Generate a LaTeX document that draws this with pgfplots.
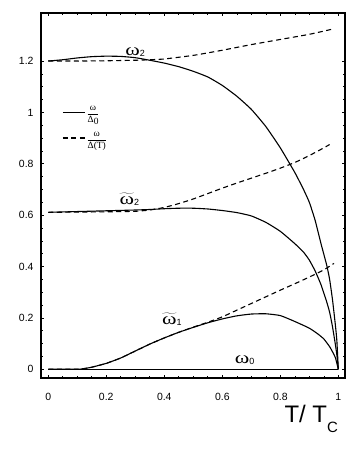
\documentclass[border=0pt]{standalone}
\usepackage{fontspec}
\setmainfont{Liberation Sans}
\newfontfamily\serif{Liberation Serif}
\usepackage{graphicx}
\usepackage{pgfplots}
\pgfplotsset{compat=1.18}

% upright omega, a little wider than Times
\newcommand{\om}{{\serif\scalebox{1.3}[1]{ω}}}
\newcommand{\omt}{$\widetilde{\mbox{\om}}$}
\newcommand{\lab}[2]{\fontsize{17}{19}\selectfont #1\raisebox{-1.5bp}{\fontsize{9}{10}\selectfont #2}}

\begin{document}
\begin{tikzpicture}
\begin{axis}[
    name=ax,
    scale only axis,
    width=304bp,
    height=365bp,
    xmin=-0.025, xmax=1.023,
    ymin=-0.034, ymax=1.387,
    xtick={0,0.2,0.4,0.6,0.8,1},
    ytick={0,0.2,0.4,0.6,0.8,1,1.2},
    minor tick num=3,
    tick align=inside,
    major tick length=3bp,
    minor tick length=1.6bp,
    tick style={line width=0.6bp, black},
    axis line style={line width=1.1bp},
    /pgf/number format/assume math mode=true,
    tick label style={font=\fontsize{10.5}{12}\selectfont},
    xticklabel style={yshift=-12bp},
    yticklabel style={xshift=-4bp},
    xlabel={T/ T\raisebox{-10bp}{\fontsize{15}{17}\selectfont C}},
    xlabel style={at={(axis description cs:0.977,-0.123)}, anchor=base east,
        font=\fontsize{24}{26}\selectfont, inner sep=0pt},
    every axis plot/.append style={line width=1.1bp, black, smooth, tension=0.3},
    legend image code/.code={\draw[#1] (0bp,0bp) -- (22bp,0bp);},
    legend style={draw=none, fill=none, at={(axis cs:0.048,1.028)}, anchor=north west,
        inner sep=0pt, row sep=12bp, font=\serif\fontsize{9.5}{10}\selectfont,
        nodes={inner sep=1bp}},
    legend cell align=left,
    /tikz/every even column/.append style={column sep=11bp},
]

% omega_2 over Delta_0
\addplot[solid] coordinates {
    (0,1.200) (0.05,1.205) (0.1,1.212) (0.15,1.217) (0.2,1.219) (0.25,1.218)
    (0.3,1.213) (0.35,1.203) (0.4,1.192) (0.45,1.178) (0.5,1.160) (0.55,1.138)
    (0.6,1.105) (0.65,1.063) (0.7,1.012) (0.75,0.945) (0.8,0.862) (0.85,0.766)
    (0.88,0.700) (0.9,0.650) (0.92,0.580) (0.94,0.490) (0.96,0.405) (0.97,0.350)
    (0.98,0.270) (0.99,0.170) (0.995,0.110) (1.0,0.0)
};
\addlegendentry{$\displaystyle\frac{\mbox{ω}}{\mbox{Δ\raisebox{-1.5bp}{0}}}$}

% omega_2 over Delta(T)
\addplot[dash pattern=on 5bp off 3.5bp] coordinates {
    (0,1.200) (0.1,1.200) (0.2,1.201) (0.3,1.203) (0.35,1.205) (0.4,1.208)
    (0.5,1.222) (0.6,1.242) (0.7,1.264) (0.8,1.284) (0.9,1.304) (0.975,1.323)
};
\addlegendentry{$\displaystyle\frac{\mbox{ω}}{\mbox{Δ(T)}}$}

% tilde omega_2
\addplot[forget plot] coordinates {
    (0,0.611) (0.1,0.614) (0.2,0.617) (0.3,0.620) (0.35,0.622) (0.4,0.625)
    (0.45,0.627) (0.5,0.627) (0.55,0.624) (0.6,0.618) (0.65,0.610) (0.7,0.597)
    (0.75,0.572) (0.8,0.537) (0.85,0.489) (0.88,0.456) (0.9,0.425) (0.92,0.383)
    (0.94,0.330) (0.96,0.262) (0.97,0.222) (0.98,0.165) (0.99,0.095)
    (0.995,0.055) (1.0,0.0)
};
\addplot[forget plot, dash pattern=on 5bp off 3.5bp] coordinates {
    (0,0.611) (0.1,0.612) (0.2,0.613) (0.3,0.615) (0.35,0.620) (0.4,0.630)
    (0.45,0.645) (0.5,0.663) (0.55,0.684) (0.6,0.705) (0.65,0.725) (0.7,0.744)
    (0.75,0.763) (0.8,0.783) (0.85,0.805) (0.9,0.832) (0.95,0.862) (0.97,0.875)
};

% tilde omega_1
\addplot[forget plot] coordinates {
    (0,0.000) (0.1,0.000) (0.12,0.002) (0.15,0.008) (0.2,0.023) (0.25,0.044)
    (0.3,0.071) (0.35,0.098) (0.4,0.122) (0.45,0.144) (0.5,0.163) (0.55,0.181)
    (0.6,0.196) (0.65,0.208) (0.7,0.215) (0.75,0.216) (0.8,0.209) (0.85,0.186)
    (0.9,0.160) (0.93,0.137) (0.95,0.118) (0.97,0.088) (0.98,0.068)
    (0.99,0.045) (1.0,0.0)
};
\addplot[forget plot, dash pattern=on 5bp off 3.5bp] coordinates {
    (0,0.000) (0.1,0.000) (0.12,0.002) (0.15,0.008) (0.2,0.023) (0.25,0.044)
    (0.3,0.071) (0.35,0.098) (0.4,0.122) (0.45,0.144) (0.5,0.164) (0.55,0.183)
    (0.6,0.204) (0.65,0.230) (0.7,0.256) (0.75,0.282) (0.8,0.308) (0.85,0.333)
    (0.9,0.359) (0.95,0.387) (0.985,0.412)
};

% omega_0
\addplot[forget plot] coordinates {(0,0) (0.5,0) (1,0)};

\node[anchor=base west, inner sep=0pt] at (axis cs:0.265,1.222) {\lab{\om}{2}};
\node[anchor=base west, inner sep=0pt] at (axis cs:0.245,0.642) {\lab{\omt}{2}};
\node[anchor=base west, inner sep=0pt] at (axis cs:0.392,0.176) {\lab{\omt}{1}};
\node[anchor=base west, inner sep=0pt] at (axis cs:0.643,0.023) {\lab{\om}{0}};
\end{axis}
\pgfresetboundingbox
\path (ax.south west) ++(-41bp,-71bp) rectangle ([xshift=18bp,yshift=13bp]ax.north east);
\end{tikzpicture}
\end{document}
